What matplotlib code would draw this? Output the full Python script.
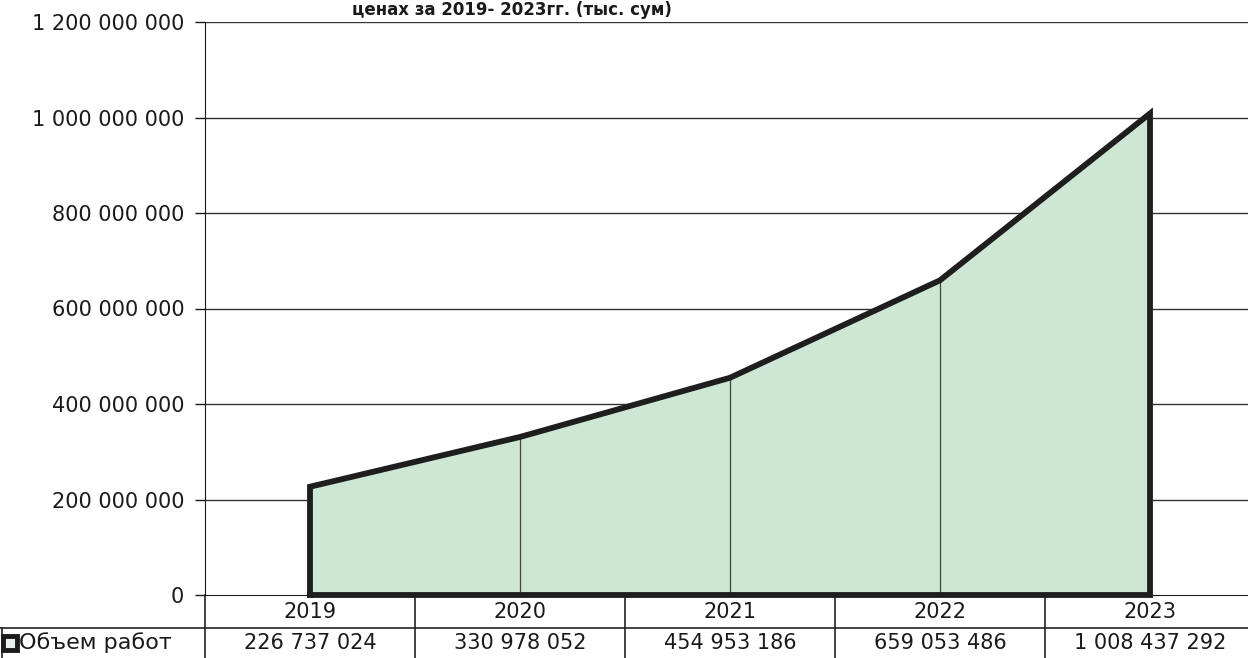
import matplotlib.pyplot as plt
from matplotlib.lines import Line2D
from matplotlib.ticker import FuncFormatter
import matplotlib.transforms as mtransforms

years = ['2019', '2020', '2021', '2022', '2023']
volume = [226737024, 330978052, 454953186, 659053486, 1008437292]
series_label = 'Объем работ'
title_tail = 'ценах за 2019- 2023гг. (тыс. сум)'
y_ticks = [0, 200000000, 400000000, 600000000, 800000000, 1000000000, 1200000000]


def space_fmt(v, pos=None):
    return f'{int(v):,}'.replace(',', ' ')


def main():
    plt.rcParams['font.family'] = ['DejaVu Sans']
    fig = plt.figure(figsize=(12.48, 6.58), dpi=100)
    W, H = 1248, 658
    ax = fig.add_axes([205 / W, 1 - 595 / H, 1050 / W, 573 / H])

    x = list(range(len(years)))
    ax.set_xlim(-0.5, len(years) - 0.5)
    ax.set_ylim(0, 1200000000)

    # gridlines
    for t in y_ticks[1:]:
        ax.axhline(t, color='#333333', lw=1.0, zorder=1)
    for xi, v in zip(x[1:-1], volume[1:-1]):
        ax.plot([xi, xi], [0, v], color='#444444', lw=0.9, zorder=3)

    # area with thick outline (closed along the zero line)
    px = [x[0]] + x + [x[-1], x[0]]
    py = [0] + volume + [0, 0]
    ax.fill(px, py, facecolor='#cde7d4', edgecolor='none', zorder=2)
    ax.plot(px, py, color='#1e1e1e', lw=4.2, solid_joinstyle='miter',
            solid_capstyle='projecting', zorder=4, clip_on=False)

    ax.set_yticks(y_ticks)
    ax.yaxis.set_major_formatter(FuncFormatter(space_fmt))
    ax.tick_params(axis='y', length=7, width=1, labelsize=15, pad=8,
                   colors='#1a1a1a')
    ax.set_xticks([])
    for s in ['right', 'top']:
        ax.spines[s].set_visible(False)
    ax.spines['left'].set_color('#1a1a1a')
    ax.spines['bottom'].set_color('#1a1a1a')

    # data table below the axes
    trans = mtransforms.blended_transform_factory(ax.transData, ax.transAxes)
    ax_bottom = -63 / 573
    for b in [-0.5, 0.5, 1.5, 2.5, 3.5]:
        ax.plot([b, b], [0, ax_bottom], transform=trans, color='#222222',
                lw=1.2, clip_on=False)
    for xi, yr, v in zip(x, years, volume):
        ax.text(xi, -17 / 573, yr, transform=trans, ha='center', va='center',
                fontsize=15, color='#1a1a1a')
        ax.text(xi, -48 / 573, space_fmt(v), transform=trans, ha='center',
                va='center', fontsize=15, color='#1a1a1a')
    fig.add_artist(Line2D([0, 1], [1 - 628 / H, 1 - 628 / H], color='#222222',
                          lw=1.2))
    fig.add_artist(Line2D([2 / W, 2 / W], [1 - 628 / H, 0], color='#222222',
                          lw=1.2))
    fig.add_artist(Line2D([10 / W], [1 - 643 / H], marker='s', markersize=10,
                          markerfacecolor='#e8f0ea', markeredgecolor='#1a1a1a',
                          markeredgewidth=3.5))
    fig.text(19 / W, 1 - 643 / H, series_label, ha='left', va='center',
             fontsize=16, color='#1a1a1a')

    # last visible line of the title (upper lines are cut off in the scan)
    fig.text(512 / W, 1 - 15 / H, title_tail, ha='center', va='baseline',
             fontsize=12, fontweight='bold', color='#1a1a1a')

    fig.savefig('out.png', dpi=100)


if __name__ == '__main__':
    main()
